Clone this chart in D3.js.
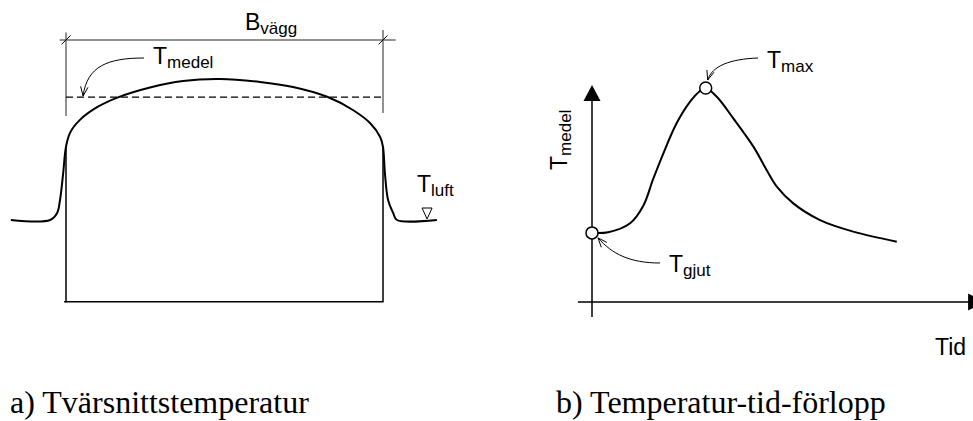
<!DOCTYPE html>
<html>
<head>
<meta charset="utf-8">
<script src="https://cdn.jsdelivr.net/npm/d3@7"></script>
<style>
  body { margin: 0; background: #fff; }
  svg { display: block; }
</style>
</head>
<body>
<svg id="chart"></svg>
<script>
// a) temperature across the wall section. position: 0..100 = wall width, temp: 0 = T_luft, 100 = peak
const profilePos  = [-17.4, -5, -2.8, -1.9, -0.9, 0, 1.3, 4.4, 9.8, 16.4, 26.5, 36.9, 48.6, 61.2, 71.6, 82.6, 90.5, 95.9, 99.1, 100, 100.6, 101.6, 103.2, 104.4, 117];
const profileTemp = [0, 0, 5, 14, 33, 52, 62, 71, 80, 87, 94, 98.6, 100, 97.9, 94.3, 87.2, 78, 68.8, 58.9, 51.8, 33.3, 14.2, 5, 0, 0];
const wallEdges = [0, 100];
const wallBottom = -58;
const wallTop = 52;
const meanLevel = 87.2;
const dimLevel = 127.7;
const airMark = 113.9;

// b) mean temperature over time (t: arbitrary units, temp: 100 = T_max)
const timeVals = [0, 5.4, 12.7, 17.1, 20.4, 23.8, 28.2, 32.7, 36, 37.9, 41.6, 47.1, 53.8, 58.2, 61.6, 67.1, 76, 87.1, 101.6];
const meanTemp = [32.3, 32.6, 36.8, 45, 57.5, 69.5, 83.5, 93.6, 98.6, 100, 95.9, 85.8, 72.6, 61.7, 53.9, 46.1, 38.3, 32.9, 28.2];
const castIdx = 0;
const maxIdx = 9;

const captions = ["a) Tvärsnittstemperatur", "b) Temperatur-tid-förlopp"];

const width = 973, height = 421;
const sans = "'Liberation Sans', Arial, sans-serif";

const svg = d3.select("#chart")
  .attr("width", width)
  .attr("height", height);

// label with subscript, e.g. T + "medel"
function subLabel(g, x, y, main, sub, rotate) {
  const t = g.append("text")
    .attr("transform", `translate(${x},${y})` + (rotate ? " rotate(-90)" : ""))
    .attr("font-family", sans)
    .attr("font-size", 23)
    .attr("fill", "#000");
  t.append("tspan").text(main);
  if (sub) t.append("tspan").attr("font-size", 17).attr("dy", 4).text(sub);
  return t;
}

// thin curved leader with an open arrow head at the end
function leader(g, p0, c1, c2, p1) {
  g.append("path")
    .attr("d", `M${p0[0]},${p0[1]} C${c1[0]},${c1[1]} ${c2[0]},${c2[1]} ${p1[0]},${p1[1]}`)
    .attr("fill", "none")
    .attr("stroke", "#000")
    .attr("stroke-width", 1);
  const a = Math.atan2(p1[1] - c2[1], p1[0] - c2[0]);
  const len = 10;
  [-0.38, 0.38].forEach(s => {
    g.append("line")
      .attr("x1", p1[0]).attr("y1", p1[1])
      .attr("x2", p1[0] - len * Math.cos(a + s))
      .attr("y2", p1[1] - len * Math.sin(a + s))
      .attr("stroke", "#000")
      .attr("stroke-width", 1);
  });
}

// ---------------- a) cross section ----------------
const xA = d3.scaleLinear().domain([0, 100]).range([66, 383]);
const yA = d3.scaleLinear().domain([0, 100]).range([220, 79]);
const gA = svg.append("g");

// dimension line B_vägg
gA.append("line")
  .attr("x1", xA(-2)).attr("x2", xA(104))
  .attr("y1", yA(dimLevel)).attr("y2", yA(dimLevel))
  .attr("stroke", "#6e6e6e").attr("stroke-width", 1.5);
[[0, 133, 73.8], [100, 134.8, 75.9]].forEach(([p, t0, t1]) => {
  gA.append("line")
    .attr("x1", xA(p)).attr("x2", xA(p))
    .attr("y1", yA(t0)).attr("y2", yA(t1))
    .attr("stroke", "#6e6e6e").attr("stroke-width", 1.5);
  gA.append("line")
    .attr("x1", xA(p) - 4.5).attr("y1", yA(dimLevel) + 4.5)
    .attr("x2", xA(p) + 4.5).attr("y2", yA(dimLevel) - 4.5)
    .attr("stroke", "#000").attr("stroke-width", 1);
});
subLabel(gA, 245, 30, "B", "vägg");

// mean level (dashed)
gA.append("line")
  .attr("x1", xA(0)).attr("x2", xA(100))
  .attr("y1", yA(meanLevel)).attr("y2", yA(meanLevel))
  .attr("stroke", "#000").attr("stroke-width", 1.3)
  .attr("stroke-dasharray", "7,4");
subLabel(gA, 153, 64, "T", "medel");
leader(gA, [144, 58], [108, 58], [87, 66], [xA(5.4), yA(meanLevel) - 1]);

// wall box
gA.append("path")
  .attr("d", `M${xA(wallEdges[0])},${yA(wallTop)} V${yA(wallBottom)} H${xA(wallEdges[1])} V${yA(wallTop)}`)
  .attr("fill", "none")
  .attr("stroke", "#000")
  .attr("stroke-width", 1.5);
gA.append("line")
  .attr("x1", xA(-0.6)).attr("x2", xA(wallEdges[0]))
  .attr("y1", yA(wallBottom)).attr("y2", yA(wallBottom))
  .attr("stroke", "#000").attr("stroke-width", 1.5);

// temperature profile
const profile = profilePos.map((p, i) => [p, profileTemp[i]]);
gA.append("path")
  .datum(profile)
  .attr("d", d3.line().x(d => xA(d[0])).y(d => yA(d[1])).curve(d3.curveCatmullRom.alpha(0.5)))
  .attr("fill", "none")
  .attr("stroke", "#000")
  .attr("stroke-width", 2);

// T_luft mark
const ax = xA(airMark), ay = yA(0);
gA.append("path")
  .attr("d", `M${ax},${ay - 1} L${ax - 5},${ay - 12} L${ax + 5},${ay - 12} Z`)
  .attr("fill", "#fff")
  .attr("stroke", "#000")
  .attr("stroke-width", 1);
subLabel(gA, 417, 192, "T", "luft");

// ---------------- b) time curve ----------------
const xB = d3.scaleLinear().domain([0, 100]).range([592, 892]);
const yB = d3.scaleLinear().domain([0, 100]).range([302, 88]);
const gB = svg.append("g");

// axes with filled arrow heads
gB.append("line")
  .attr("x1", xB(0)).attr("x2", xB(0))
  .attr("y1", yB(-7)).attr("y2", yB(96))
  .attr("stroke", "#000").attr("stroke-width", 1.5);
gB.append("path")
  .attr("d", `M${xB(0)},${yB(101.4)} L${xB(0) - 8.5},${yB(101.4) + 16} L${xB(0) + 8.5},${yB(101.4) + 16} Z`)
  .attr("fill", "#000");
gB.append("line")
  .attr("x1", xB(-4.7)).attr("x2", xB(126))
  .attr("y1", yB(0)).attr("y2", yB(0))
  .attr("stroke", "#000").attr("stroke-width", 1.5);
gB.append("path")
  .attr("d", `M${xB(130.7)},${yB(0)} L${xB(130.7) - 16},${yB(0) - 8.5} L${xB(130.7) - 16},${yB(0) + 8.5} Z`)
  .attr("fill", "#000");

subLabel(gB, 567, 170, "T", "medel", true);
gB.append("text")
  .attr("x", 935).attr("y", 355)
  .attr("font-family", sans)
  .attr("font-size", 23)
  .text("Tid");

const series = timeVals.map((t, i) => [t, meanTemp[i]]);
gB.append("path")
  .datum(series)
  .attr("d", d3.line().x(d => xB(d[0])).y(d => yB(d[1])).curve(d3.curveCatmullRom.alpha(0.5)))
  .attr("fill", "none")
  .attr("stroke", "#000")
  .attr("stroke-width", 2);

gB.selectAll("circle.mark")
  .data([series[castIdx], series[maxIdx]])
  .join("circle")
  .attr("class", "mark")
  .attr("cx", d => xB(d[0]))
  .attr("cy", d => yB(d[1]))
  .attr("r", 6)
  .attr("fill", "#fff")
  .attr("stroke", "#000")
  .attr("stroke-width", 1.5);

const pMax = [xB(series[maxIdx][0]), yB(series[maxIdx][1])];
const pCast = [xB(series[castIdx][0]), yB(series[castIdx][1])];
subLabel(gB, 767, 68, "T", "max");
leader(gB, [758, 58], [730, 59], [712, 66], [pMax[0] + 2, pMax[1] - 8]);
subLabel(gB, 669, 272, "T", "gjut");
leader(gB, [660, 263], [630, 263], [612, 254], [pCast[0] + 6, pCast[1] + 5]);

// captions
svg.selectAll("text.caption")
  .data(captions)
  .join("text")
  .attr("class", "caption")
  .attr("x", (d, i) => i == 0 ? 10 : 556)
  .attr("y", 413)
  .attr("font-family", "'Liberation Serif', 'Times New Roman', serif")
  .attr("font-size", 32)
  .text(d => d);
</script>
</body>
</html>
